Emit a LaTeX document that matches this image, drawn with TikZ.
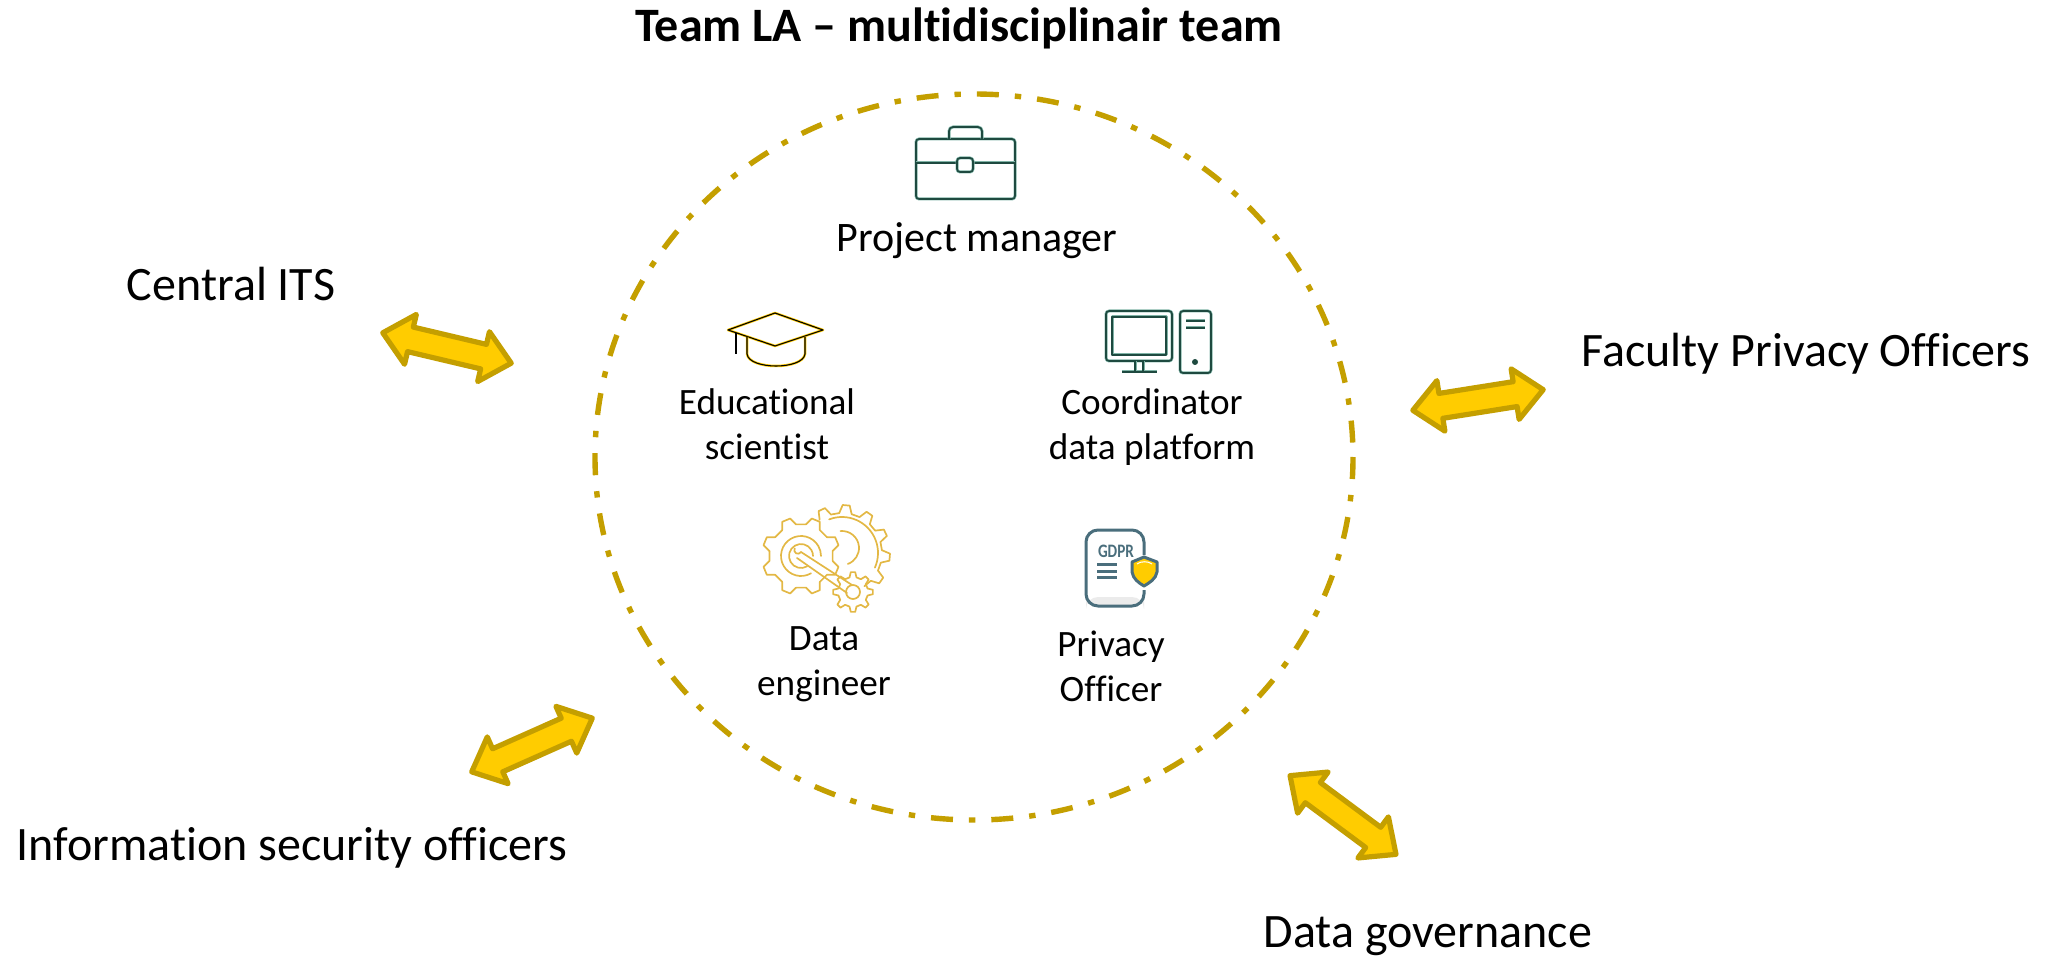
\documentclass[tikz,border=0pt]{standalone}
\usepackage{fontspec}
\setmainfont{Carlito}[Ligatures=NoCommon]
\newfontfamily\gdprfont{Carlito}[FakeStretch=0.8]
\usetikzlibrary{shapes.arrows}
\definecolor{ringgold}{HTML}{C49F00}
\definecolor{arrowgold}{HTML}{FFCC00}
\definecolor{geargold}{HTML}{E3B845}
\definecolor{iconteal}{HTML}{7FB3A6}
\definecolor{icondark}{HTML}{1E4A40}
\definecolor{docblue}{HTML}{4A6E7C}
\tikzset{
    label/.style={font=\fontsize{18.6}{22.5}\selectfont,align=center,inner sep=0pt},
    partner/.style={font=\fontsize{24}{27}\selectfont,inner sep=0pt},
    twoway/.style={double arrow,draw=ringgold,fill=arrowgold,line width=2.6pt,line join=round,
        minimum height=66pt,double arrow head extend=6.5pt,double arrow tip angle=84,
        double arrow head indent=0pt,inner xsep=0pt,inner ysep=5pt},
    tealline/.style={draw=iconteal,double=icondark,double distance=0.8pt,line width=0.35pt,line join=round},
    hatline/.style={draw=arrowgold,double=black,double distance=0.55pt,line width=0.35pt,line join=round},
    gearline/.style={draw=geargold,line width=0.85pt,line join=round,line cap=round},
    docline/.style={draw=docblue,line width=1.5pt},
}
% centre, outer radius, root radius, first tooth, second tooth, last tooth
\newcommand{\gearpart}[6]{
    \begin{scope}[shift={#1}]
        \foreach \a in {#4,#5,...,#6} {
            \pgfmathsetmacro{\s}{#5-#4}
            \draw [gearline] (\a-0.3*\s:#3) -- (\a-0.14*\s:#2) -- (\a+0.14*\s:#2) -- (\a+0.3*\s:#3)
                -- (\a+0.7*\s:#3);
        }
    \end{scope}
}

\begin{document}
\begin{tikzpicture}[x=0.5pt,y=-0.5pt]
    \useasboundingbox (0,0) rectangle (2054,956);

    \node [font=\fontsize{24}{27}\selectfont\bfseries,inner sep=0pt] (title) at (959,28) {Team LA -- multidisciplinair team};

    \draw [ringgold,line width=2.7pt,dash pattern=on 11pt off 8pt on 3.2pt off 8pt] (974,457) ellipse [x radius=379,y radius=363];

    % briefcase
    \draw [tealline,rounded corners=1.5pt] (916,139) rectangle (1015,199);
    \draw [tealline,rounded corners=2pt] (949,139) -- (949,127) -- (982,127) -- (982,139);
    \draw [tealline] (916,163) -- (957,163) (973,163) -- (1015,163);
    \draw [tealline,rounded corners=1.5pt] (957,158) rectangle (973,172);
    \node [label,font=\fontsize{21}{24}\selectfont] (manager) at (977,241) {Project manager};

    % hat
    \draw [hatline] (728,330) -- (775,313) -- (823,330) -- (775,346) -- cycle;
    \draw [hatline] (736,333) -- (736,354);
    \draw [hatline] (747,337) -- (747,354) .. controls (749,370) and (803,370) .. (805,354) -- (805,337);
    \node [label] (scientist) at (767,424) {Educational\\scientist};

    % computer
    \draw [tealline,rounded corners=1.5pt] (1106,311) rectangle (1172,361);
    \draw [tealline] (1112,317) rectangle (1166,355);
    \draw [tealline] (1135,361) -- (1135,372) (1143,361) -- (1143,372) (1122,372) -- (1157,372);
    \draw [tealline,rounded corners=1.5pt] (1180,311) rectangle (1211,373);
    \draw [tealline] (1186,321) -- (1205,321) (1186,328) -- (1205,328);
    \fill [icondark] (1195,362) circle (3);
    \node [label] (coordinator) at (1152,427) {Coordinator\\data platform};

    % gears
    \gearpart{(801,556)}{39}{32}{22.5}{67.5}{337.5}
    \gearpart{(853,592)}{20}{15}{0}{45}{315}
    \gearpart{(842,553)}{48}{40}{-115}{-85}{35}
    \draw [gearline] (801,556) ++(60:20) arc (60:360:20);
    \draw [gearline] (801,556) ++(60:12) arc (60:360:12);
    \draw [gearline] (801,552) -- (852,585) (797,558) -- (847,593);
    \draw [gearline] (801,552) arc (30:210:3.6);
    \draw [gearline] (853,592) circle (7);
    \draw [gearline] (842,553) ++(-111:36) arc (-111:24:36);
    \draw [gearline] (842,548) ++(-95:17) arc (-95:70:17);
    \node [label] (engineer) at (824,664) {Data\\engineer};

    % gdpr sheet
    \fill [black!8,rounded corners=6pt] (1086,597) rectangle (1144,606);
    \draw [docline,rounded corners=6pt] (1144,555) -- (1144,530) -- (1086,530) -- (1086,606) -- (1144,606) -- (1144,590);
    \node [font=\gdprfont\fontsize{9.5}{10}\selectfont\bfseries,text=docblue,inner sep=0pt] (gdpr) at (1116,551) {GDPR};
    \draw [docline] (1097,564) -- (1117,564) (1097,571) -- (1117,571) (1097,577) -- (1117,577);
    \draw [docline,fill=arrowgold,line join=round] (1144,557) -- (1132,562) -- (1132,572) .. controls (1133,579) and (1139,583) .. (1144,586)
        .. controls (1149,583) and (1156,579) .. (1157,572) -- (1157,562) -- cycle;
    \draw [white,line width=0.5pt] (1137,564) .. controls (1141,561) and (1148,561) .. (1152,564);
    \node [label] (officer) at (1111,666) {Privacy\\Officer};

    % partners
    \node [partner] (its) at (231,284) {Central ITS};
    \node [partner] (faculty) at (1806,354) {Faculty Privacy Officers};
    \node [partner] (security) at (292,848) {Information security officers};
    \node [partner] (governance) at (1428,936) {Data governance};

    \node [twoway,rotate=-13.3] (itsarrow) at (447,348) {};
    \node [twoway,rotate=9] (facultyarrow) at (1478,400) {};
    \node [twoway,rotate=24] (securityarrow) at (532,745) {};
    \node [twoway,rotate=-36.6] (governancearrow) at (1343,815) {};
\end{tikzpicture}
\end{document}
